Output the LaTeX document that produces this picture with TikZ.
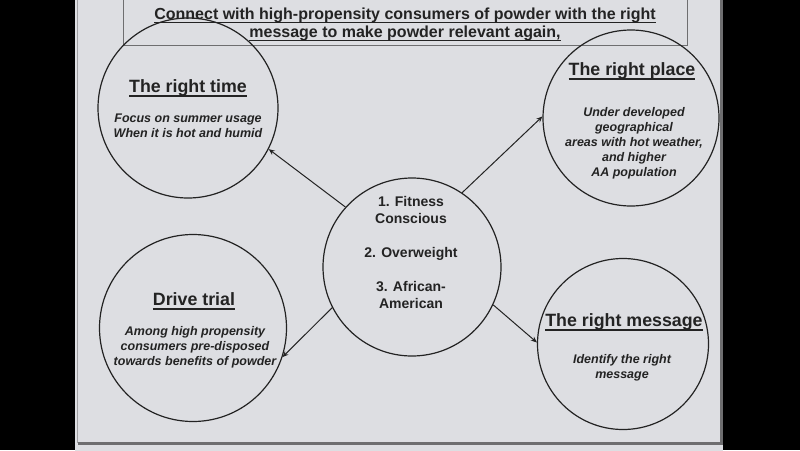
\documentclass[tikz,border=0pt]{standalone}
\usepackage{fontspec}
\setmainfont{Liberation Sans}
\usetikzlibrary{arrows.meta}
\definecolor{panel}{RGB}{221,222,226}
\definecolor{ink}{RGB}{35,35,35}
\definecolor{edgegray}{RGB}{110,110,112}
\definecolor{edgelight}{RGB}{160,160,163}
\newsavebox\myulbox
\newcommand{\myuline}[3]{\sbox\myulbox{#3}\rlap{\rule[#1]{\wd\myulbox}{#2}}\usebox\myulbox}
\tikzset{
  circ/.style={circle, draw=ink, line width=1.2pt, inner sep=0pt},
  head/.style={anchor=base, inner sep=0pt, font=\fontsize{17.8}{20}\selectfont\bfseries, text=ink},
  body/.style={anchor=base, inner sep=0pt, align=center, font=\fontsize{12.5}{15}\selectfont\bfseries\itshape, text=ink},
  mid/.style={anchor=base, inner sep=0pt, align=center, font=\fontsize{14}{17}\selectfont\bfseries, text=ink},
  ttl/.style={anchor=base, inner sep=0pt, font=\fontsize{16}{18}\selectfont\bfseries, text=ink},
  arr/.style={draw=ink, line width=1pt, -{Stealth[length=6pt,width=5pt]}}
}
\begin{document}
\begin{tikzpicture}[x=1pt,y=-1pt]
\useasboundingbox (0,0) rectangle (800,450);
\fill[black] (0,0) rectangle (800,450);
\fill[panel] (75,-5) rectangle (723,455);
\draw[edgegray, line width=3pt] (78,443.5) -- (721.5,443.5) -- (721.5,-5);
\draw[edgelight, line width=0.8pt] (77,-5) -- (77,443);
% title box
\draw[edgegray, line width=0.9pt] (123,-20) rectangle (687,45);
\node[ttl] (t1) at (405,19.5) {\myuline{-3.6pt}{1.4pt}{Connect with high-propensity consumers of powder with the right}};
\node[ttl] (t2) at (405,37.5) {\myuline{-3.6pt}{1.4pt}{message to make powder relevant again,}};
% circles
\node[circ, minimum size=180pt] (time) at (188,108) {};
\node[circ, minimum size=176pt] (place) at (631,118) {};
\node[circ, minimum size=178pt] (ctr) at (412,267) {};
\node[circ, minimum size=187pt] (trial) at (193,328) {};
\node[circ, minimum size=171pt] (msg) at (623,344) {};
% texts (multi-line nodes: base = last line's baseline)
\node[head] (timeh) at (188,92) {\myuline{-5.2pt}{1.8pt}{The right time}};
\node[body] (timeb) at (188,137) {Focus on summer usage\\When it is hot and humid};
\node[head] (placeh) at (632,75) {\myuline{-5.2pt}{1.8pt}{The right place}};
\node[body] (placeb) at (634,176) {Under developed\\geographical\\areas with hot weather,\\and higher\\AA population};
\node[head] (trialh) at (194,305) {\myuline{-5.2pt}{1.8pt}{Drive trial}};
\node[body] (trialb) at (195,365) {Among high propensity\\consumers pre-disposed\\towards benefits of powder};
\node[head] (msgh) at (624,326) {\myuline{-5.2pt}{1.8pt}{The right message}};
\node[body] (msgb) at (622,378) {Identify the right\\message};
\node[mid] (ctrt) at (411,308) {1. Fitness\\Conscious\\[17pt]2. Overweight\\[17pt]3. African-\\American};
% arrows
\draw[arr] (ctr.138) -- (time.-27);
\draw[arr] (ctr.56) -- (place.179);
\draw[arr] (ctr.207) -- (trial.-18);
\draw[arr] (ctr.-25) -- (msg.179);
\end{tikzpicture}
\end{document}
